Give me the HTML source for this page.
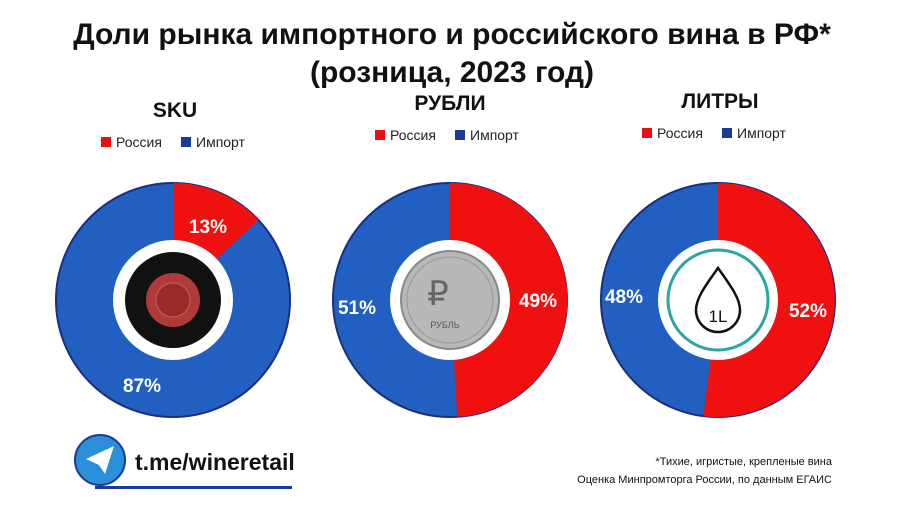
<!DOCTYPE html><html><head><meta charset="utf-8"><style>
body{margin:0;width:900px;height:500px;background:#fff;overflow:hidden;font-family:"Liberation Sans","DejaVu Sans",sans-serif}
</style></head><body>
<svg width="900" height="500" viewBox="0 0 900 500" xmlns="http://www.w3.org/2000/svg" font-family="Liberation Sans, DejaVu Sans, sans-serif">
<text x="452" y="44" text-anchor="middle" font-size="30" font-weight="bold" fill="#111">Доли рынка импортного и российского вина в РФ*</text>
<text x="452" y="82" text-anchor="middle" font-size="30" font-weight="bold" fill="#111">(розница, 2023 год)</text>
<g font-weight="bold" font-size="21" fill="#111" text-anchor="middle">
<text x="175" y="117">SKU</text><text x="450" y="110">РУБЛИ</text><text x="720" y="108">ЛИТРЫ</text></g>
<g font-size="14" fill="#222">
<rect x="101" y="137" width="10" height="10" fill="#e81010"/><text x="116" y="147">Россия</text>
<rect x="181" y="137" width="10" height="10" fill="#1a3a9a"/><text x="196" y="147">Импорт</text>
<rect x="375" y="130" width="10" height="10" fill="#e81010"/><text x="390" y="140">Россия</text>
<rect x="455" y="130" width="10" height="10" fill="#1a3a9a"/><text x="470" y="140">Импорт</text>
<rect x="642" y="128" width="10" height="10" fill="#e81010"/><text x="657" y="138">Россия</text>
<rect x="722" y="128" width="10" height="10" fill="#1a3a9a"/><text x="737" y="138">Импорт</text>
</g>
<!-- SKU -->
<circle cx="173" cy="300" r="117" fill="#2160c0" stroke="#1a2f80" stroke-width="2"/>
<path d="M173 300 L173 183 A117 117 0 0 1 258.3 220 Z" fill="#f01010"/>
<circle cx="173" cy="300" r="60" fill="#fff"/>
<circle cx="173" cy="300" r="48" fill="#111"/>
<circle cx="173" cy="300" r="27" fill="#b03a3a"/>
<circle cx="173" cy="300" r="17" fill="#9a2a2a" stroke="#c06060" stroke-width="1"/>
<text x="208" y="233" text-anchor="middle" font-size="19" font-weight="bold" fill="#fff">13%</text>
<text x="142" y="392" text-anchor="middle" font-size="19" font-weight="bold" fill="#fff">87%</text>
<!-- RUBLI -->
<circle cx="450" cy="300" r="117" fill="#2160c0" stroke="#1a2f80" stroke-width="2"/>
<path d="M450 300 L450 183 A117 117 0 0 1 457.3 416.8 Z" fill="#f01010"/>
<circle cx="450" cy="300" r="60" fill="#fff"/>
<circle cx="450" cy="300" r="49" fill="#b8b8b8" stroke="#888" stroke-width="2"/>
<circle cx="450" cy="300" r="43" fill="none" stroke="#999" stroke-width="1"/>
<text x="438" y="305" text-anchor="middle" font-size="34" fill="#666">₽</text>
<text x="445" y="328" text-anchor="middle" font-size="9" fill="#555">РУБЛЬ</text>
<text x="357" y="314" text-anchor="middle" font-size="19" font-weight="bold" fill="#fff">51%</text>
<text x="538" y="307" text-anchor="middle" font-size="19" font-weight="bold" fill="#fff">49%</text>
<!-- LITRY -->
<circle cx="718" cy="300" r="117" fill="#2160c0" stroke="#1a2f80" stroke-width="2"/>
<path d="M718 300 L718 183 A117 117 0 1 1 703.3 416.1 Z" fill="#f01010"/>
<circle cx="718" cy="300" r="60" fill="#fff"/>
<circle cx="718" cy="300" r="50" fill="none" stroke="#2aa7a0" stroke-width="3"/>
<path d="M718 268 C706 285 696 298 696 310 A22 22 0 0 0 740 310 C740 298 730 285 718 268 Z" fill="none" stroke="#111" stroke-width="2.5"/>
<text x="718" y="322" text-anchor="middle" font-size="17" fill="#111">1L</text>
<text x="624" y="303" text-anchor="middle" font-size="19" font-weight="bold" fill="#fff">48%</text>
<text x="808" y="317" text-anchor="middle" font-size="19" font-weight="bold" fill="#fff">52%</text>
<!-- footer -->
<circle cx="100" cy="460" r="25" fill="#2a8fd8" stroke="#1a3a9a" stroke-width="2"/>
<path d="M86 459 L114 446 L105 474 L99 465 Z" fill="#fff"/>
<rect x="95" y="486" width="197" height="3" fill="#1a3a9a"/>
<text x="135" y="470" font-size="23" font-weight="bold" fill="#111">t.me/wineretail</text>
<text x="832" y="465" text-anchor="end" font-size="11" fill="#111">*Тихие, игристые, крепленые вина</text>
<text x="832" y="483" text-anchor="end" font-size="11" fill="#111">Оценка Минпромторга России, по данным ЕГАИС</text>
</svg>
</body></html>
